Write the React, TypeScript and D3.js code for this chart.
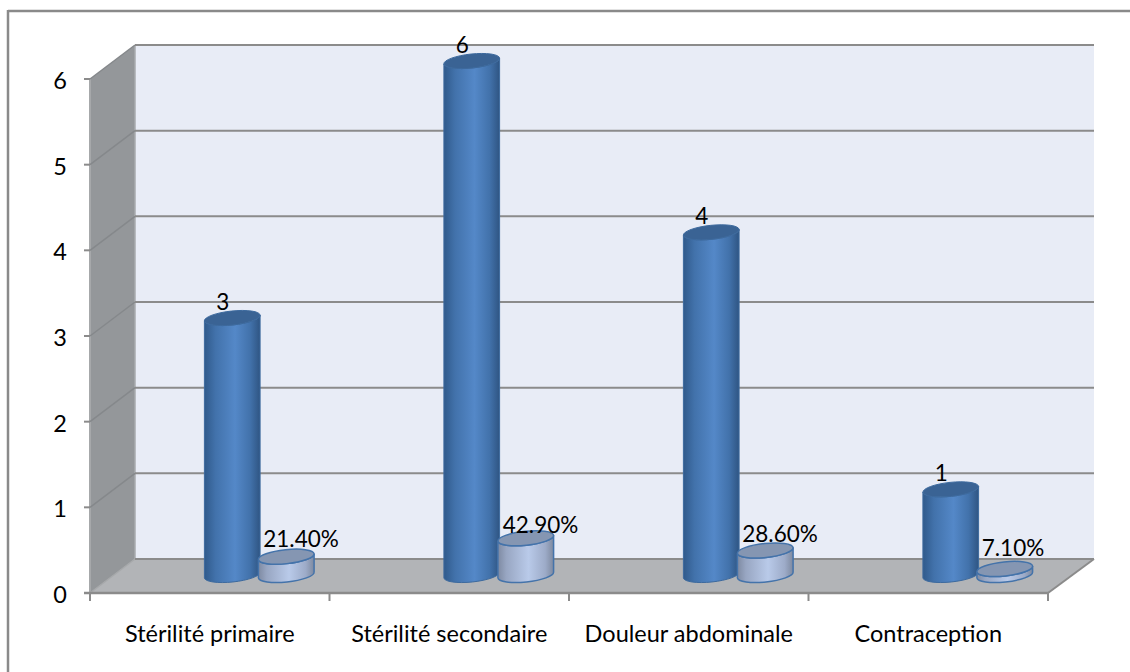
import React from "react";
import * as d3 from "d3";

const categories = ["Stérilité primaire", "Stérilité secondaire", "Douleur abdominale", "Contraception"];
const counts = [3, 6, 4, 1];
const shares = [21.4, 42.9, 28.6, 7.1];
const yTicks = [0, 1, 2, 3, 4, 5, 6];

const W = 1130;
const H = 672;
const depthX = 45;
const depthY = 34;
const FONT = "Lato, Carlito, Calibri, sans-serif";
const GRID = "#8b8b8b";

const y = d3.scaleLinear().domain([0, 6]).range([593, 79]);
const x = d3.scaleBand<string>().domain(categories).range([90, 1048]);

const RX = 28;
const RY = 7;
const TILT = 6; // degrees the cylinder ellipses lean, from the oblique projection
const dx = RX * Math.cos((TILT * Math.PI) / 180);
const dy = RX * Math.sin((TILT * Math.PI) / 180);
const FLOOR_SHIFT = 18; // vertical distance from the front floor edge to the cylinder base

function cylinder(cx: number, h: number) {
  const base = y(0) - FLOOR_SHIFT;
  const top = base - h;
  const body =
    `M${cx - dx},${top + dy} L${cx - dx},${base + dy} ` +
    `A${RX},${RY} ${-TILT} 0 0 ${cx + dx},${base - dy} ` +
    `L${cx + dx},${top - dy} ` +
    `A${RX},${RY} ${-TILT} 0 1 ${cx - dx},${top + dy} Z`;
  const cap =
    `M${cx - dx},${top + dy} A${RX},${RY} ${-TILT} 0 1 ${cx + dx},${top - dy} ` +
    `A${RX},${RY} ${-TILT} 0 1 ${cx - dx},${top + dy} Z`;
  return { body, cap };
}

const pct = d3.format(".2f");
const barCentre = (c: string) => (x(c) as number) + x.bandwidth() / 2 + 22.5;

export default function App() {
  const x0 = x.range()[0];
  const x1 = x.range()[1];
  const yBottom = y(0);
  const yTop = y(6);
  const boundaries = [...categories.map((c) => x(c) as number), x1];

  return (
    <svg
      width={W}
      height={H}
      style={{ position: "absolute", left: 0, top: 0, background: "#fff" }}
      fontFamily={FONT}
      fill="#000"
    >
      <defs>
        <linearGradient id="darkBar" x1="0" x2="1" y1="0" y2="0">
          <stop offset="0" stopColor="#305a8b" />
          <stop offset="0.2" stopColor="#4272ab" />
          <stop offset="0.55" stopColor="#5488c8" />
          <stop offset="0.82" stopColor="#4272ab" />
          <stop offset="1" stopColor="#2f5583" />
        </linearGradient>
        <linearGradient id="lightBar" x1="0" x2="1" y1="0" y2="0">
          <stop offset="0" stopColor="#7e8aa2" />
          <stop offset="0.15" stopColor="#98a6c2" />
          <stop offset="0.55" stopColor="#b9cae9" />
          <stop offset="0.85" stopColor="#9dabc8" />
          <stop offset="1" stopColor="#7d899f" />
        </linearGradient>
      </defs>

      {/* chart frame: only its top and left edges show */}
      <line x1={8} x2={W} y1={11} y2={11} stroke="#8a8a8a" strokeWidth={2.5} />
      <line x1={8} x2={8} y1={10} y2={H} stroke="#8a8a8a" strokeWidth={2.5} />

      {/* back wall, side wall and floor */}
      <rect x={x0 + depthX} y={yTop - depthY} width={x1 - x0 + 1} height={yBottom - yTop} fill="#e8ecf6" />
      <polygon
        points={`${x0},${yTop} ${x0 + depthX},${yTop - depthY} ${x0 + depthX},${yBottom - depthY} ${x0},${yBottom}`}
        fill="#94979a"
      />
      <polygon
        points={`${x0},${yBottom} ${x0 + depthX},${yBottom - depthY} ${x1 + depthX + 1},${yBottom - depthY} ${x1},${yBottom}`}
        fill="#b2b4b7"
      />
      <line x1={x0} x2={x0} y1={yTop} y2={yBottom} stroke="#a6a8aa" strokeWidth={2} />
      <line x1={x0 + depthX} x2={x0 + depthX} y1={yTop - depthY} y2={yBottom - depthY} stroke="#a9abae" strokeWidth={1.5} />

      {/* gridlines run along the back wall and down the side wall */}
      {yTicks.map((t) => (
        <g key={t} stroke={GRID} fill="none">
          <line x1={x0} y1={y(t)} x2={x0 + depthX} y2={y(t) - depthY} strokeWidth={1.5} stroke={t === 0 ? "#a6a8aa" : "#85888b"} />
          <line x1={x0 + depthX} y1={y(t) - depthY} x2={x1 + depthX + 1} y2={y(t) - depthY} strokeWidth={2} />
          <line x1={x0 - 6} y1={y(t)} x2={x0} y2={y(t)} strokeWidth={2} />
        </g>
      ))}
      <line x1={x1} y1={yBottom} x2={x1 + depthX + 1} y2={yBottom - depthY} stroke={GRID} strokeWidth={2} />
      <line x1={x0 - 6} y1={yBottom} x2={x1 + 1} y2={yBottom} stroke={GRID} strokeWidth={2.5} />
      {boundaries.map((b) => (
        <line key={b} x1={b} x2={b} y1={yBottom} y2={yBottom + 8} stroke={GRID} strokeWidth={2} />
      ))}

      {/* cylinders: the count series first, its share standing in front */}
      {categories.map((c, i) => {
        const { body, cap } = cylinder(barCentre(c), yBottom - y(counts[i]));
        return (
          <g key={c}>
            <path d={body} fill="url(#darkBar)" stroke="#3d6a9e" strokeWidth={1} />
            <path d={cap} fill="#3a6394" stroke="#3d6a9e" strokeWidth={1} />
          </g>
        );
      })}
      {categories.map((c, i) => {
        const { body, cap } = cylinder(barCentre(c) + 54, yBottom - y(shares[i] / 100));
        return (
          <g key={c}>
            <path d={body} fill="url(#lightBar)" stroke="#4473aa" strokeWidth={1.5} />
            <path d={cap} fill="#8596b2" stroke="#4473aa" strokeWidth={1.5} />
          </g>
        );
      })}

      {/* value labels; share labels sit closer to the taller cylinders */}
      {categories.map((c, i) => {
        const cx = barCentre(c);
        const top = y(counts[i]) - FLOOR_SHIFT;
        const shareTop = y(shares[i] / 100) - FLOOR_SHIFT;
        return (
          <g key={c} fontSize={22.5}>
            <text x={cx - 9.5} y={top - 8.5} textAnchor="middle">{counts[i]}</text>
            <text x={cx + 31} y={shareTop - (14 - 0.2 * shares[i])}>{`${pct(shares[i])}%`}</text>
          </g>
        );
      })}

      {/* axis labels */}
      {yTicks.map((t) => (
        <text key={t} x={67} y={y(t) + 10} fontSize={23.5} textAnchor="end">{t}</text>
      ))}
      {categories.map((c) => (
        <text
          key={c}
          x={(x(c) as number) + x.bandwidth() / 2}
          y={642}
          fontSize={23.5}
          textAnchor="middle"
        >
          {c}
        </text>
      ))}
    </svg>
  );
}
